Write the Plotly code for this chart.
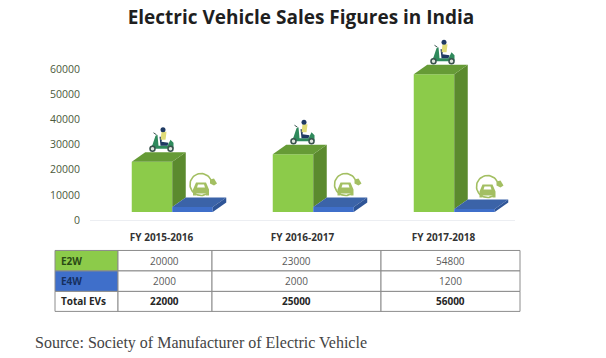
import numpy as np
import plotly.graph_objects as go

# ---- data ----
categories = ["FY 2015-2016", "FY 2016-2017", "FY 2017-2018"]
e2w_values = [20000, 23000, 54800]
e4w_values = [2000, 2000, 1200]
total_values = [22000, 25000, 56000]
row_labels = ["E2W", "E4W", "Total EVs"]
y_ticks = [0, 10000, 20000, 30000, 40000, 50000, 60000]
title_text = "Electric Vehicle Sales Figures in India"
source_text = "Source: Society of Manufacturer of Electric Vehicle"

# ---- layout constants (pixels) ----
W, H = 606, 358
L, R, Y0, Y60 = 90, 515, 220, 69
CAT0, CAT_STEP = 161.5, 141
PX_X = 1 / CAT_STEP
PX_Y = 60000 / (Y0 - Y60)
TOP_VAL = 72000
T = Y0 - (Y0 - Y60) * TOP_VAL / 60000
FLOOR = 8 * PX_Y
BAR_W = 40.5 * PX_X
DX, DY = 13.5 * PX_X, 9.5 * PX_Y
GREEN_F, GREEN_S, GREEN_T = "#8ccb4a", "#5b8a2e", "#669b36"
BLUE_F, BLUE_S, BLUE_T = "#3f6fca", "#2f5597", "#3b63a8"
ICON = "#a3bf62"


def paper_x(px):
    return (px - L) / (R - L)


def paper_y(py):
    return (Y0 - py) / (Y0 - T)


fig = go.Figure()
xs = np.arange(len(categories), dtype=float)
green_c = xs - 9.5 * PX_X
blue_c = green_c + BAR_W

fig.add_bar(x=green_c, y=e2w_values, base=FLOOR, width=BAR_W, marker=dict(color=GREEN_F, line_width=0), name="E2W", showlegend=False)
fig.add_bar(x=blue_c, y=e4w_values, base=FLOOR, width=BAR_W, marker=dict(color=BLUE_F, line_width=0), name="E4W", showlegend=False)


def poly(px, py, color):
    fig.add_scatter(x=px, y=py, mode="lines", fill="toself", fillcolor=color,
                    line=dict(width=0, color=color), hoverinfo="skip", showlegend=False)


for i in range(3):
    g0, g1 = green_c[i] - BAR_W / 2, green_c[i] + BAR_W / 2
    b1 = g1 + BAR_W
    gt, bt = FLOOR + e2w_values[i], FLOOR + e4w_values[i]
    # green side, hidden below the blue top face
    poly([g1, g1 + DX, g1 + DX, g1], [gt, gt + DY, bt + DY, bt], GREEN_S)
    poly([g0, g0 + DX, g1 + DX, g1], [gt, gt + DY, gt + DY, gt], GREEN_T)
    poly([g1, g1 + DX, b1 + DX, b1], [bt, bt + DY, bt + DY, bt], BLUE_T)
    poly([b1, b1 + DX, b1 + DX, b1], [bt, bt + DY, FLOOR + DY, FLOOR], BLUE_S)


def icon_pts(cx, cy, pts):
    return [cx + p[0] * PX_X for p in pts], [cy + p[1] * PX_Y for p in pts]


def scooter(cx, base):
    def s(pts, color):
        a, b = icon_pts(cx, base, pts)
        poly(a, b, color)
    s([(-12, 3), (-9, 7), (-6, 16), (-4, 17), (-3, 6), (6, 6), (9, 12), (12, 9), (12, 3), (-3, 3)], "#2f8a5c")
    s([(-1, 6), (6, 6), (7, 9), (0, 10), (1, 15), (-2, 15)], "#1f3a63")
    s([(-1, 12), (4, 12), (5, 20), (0, 20)], "#e0dc78")
    a, b = icon_pts(cx, base, [(1.5, 22)])
    fig.add_scatter(x=a, y=b, mode="markers", marker=dict(size=5, color="#1f3a63"), hoverinfo="skip", showlegend=False)
    a, b = icon_pts(cx, base, [(-9, 3), (9, 3)])
    fig.add_scatter(x=a, y=b, mode="markers", marker=dict(size=5, color="#dfe5df", line=dict(width=1.5, color="#39524d")),
                    hoverinfo="skip", showlegend=False)
    a, b = icon_pts(cx, base, [(-8, 19), (-5, 17)])
    fig.add_scatter(x=a, y=b, mode="lines", line=dict(width=1, color="#39524d"), hoverinfo="skip", showlegend=False)


def car_icon(cx, base):
    t = np.radians(np.linspace(25, 300, 40))
    a = cx + 11 * np.cos(t) * PX_X
    b = base + (12 + 11 * np.sin(t)) * PX_Y
    fig.add_scatter(x=a, y=b, mode="lines", line=dict(width=1.6, color=ICON), hoverinfo="skip", showlegend=False)
    def s(pts, color):
        a, b = icon_pts(cx, base, pts)
        poly(a, b, color)
    s([(-8, 1), (-8, 7), (-5, 14), (5, 14), (8, 7), (8, 1), (5, 1), (5, 3), (-5, 3), (-5, 1)], ICON)
    s([(-4, 9), (-3, 12), (3, 12), (4, 9)], "#ffffff")
    s([(9, 13), (13, 11), (16, 13), (13, 18), (9, 17)], ICON)


scooter_dx = [0, 0, -1]
icon_dx = [39.5, 43, 44]
for i in range(3):
    top = FLOOR + e2w_values[i] + DY
    scooter(xs[i] + scooter_dx[i] * PX_X, top + 0.5 * PX_Y)
    car_icon(xs[i] + icon_dx[i] * PX_X, FLOOR + e4w_values[i] + DY + 1 * PX_Y)

# ---- table (drawn in page pixels) ----
FONT = "Open Sans"
GREY, DARK, RULE = "#5a5a5a", "#262626", "#8c8c8c"
col_edges = [55, 118, 212, 381, 520]
row_edges = [250.5, 271, 291.5, 311.5]
rows = [e2w_values, e4w_values, total_values]
row_fill = [GREEN_F, BLUE_F, "white"]
label_color = ["#2a4a15", "#16305f", DARK]
shapes = []
annotations = []
for r in range(3):
    y0, y1 = row_edges[r], row_edges[r + 1]
    ym = (y0 + y1) / 2
    for c in range(4):
        x0, x1 = col_edges[c], col_edges[c + 1]
        shapes.append(dict(type="rect", xref="paper", yref="paper", layer="above",
                           x0=paper_x(x0), x1=paper_x(x1), y0=paper_y(y0), y1=paper_y(y1),
                           fillcolor=row_fill[r] if c == 0 else "white", line=dict(color=RULE, width=1)))
    annotations.append(dict(text=f"<b>{row_labels[r]}</b>", xref="paper", yref="paper", showarrow=False,
                            xanchor="left", yanchor="middle", x=paper_x(58.5), y=paper_y(ym),
                            font=dict(family=FONT, size=10, color=label_color[r])))
    for c in range(3):
        val = str(rows[r][c])
        annotations.append(dict(text=f"<b>{val}</b>" if r == 2 else val, xref="paper", yref="paper", showarrow=False,
                                xanchor="center", yanchor="middle",
                                x=paper_x((col_edges[c + 1] + col_edges[c + 2]) / 2 - 0.5), y=paper_y(ym),
                                font=dict(family=FONT, size=10, color=DARK if r == 2 else GREY)))

annotations.append(dict(text=source_text, xref="paper", yref="paper", showarrow=False, xanchor="left", yanchor="middle",
                        x=paper_x(32.5), y=paper_y(343),
                        font=dict(family="Liberation Serif", size=16, color="#444444")))

fig.update_layout(
    width=W, height=H, autosize=False, margin=dict(l=L, r=W - R, t=T, b=H - Y0, pad=0),
    paper_bgcolor="white", plot_bgcolor="white", barmode="overlay", showlegend=False,
    title=dict(text=f"<b>{title_text}</b>", x=301 / W, xanchor="center", xref="container",
               y=1 - 17.5 / H, yanchor="middle", yref="container",
               font=dict(family="Open Sans", size=19, color="#1f1f1f")),
    xaxis=dict(range=[(L - CAT0) * PX_X, (R - CAT0) * PX_X], tickmode="array", tickvals=list(xs),
               ticktext=[f"<b>{c}</b>" for c in categories], ticks="", showgrid=False, zeroline=False,
               showline=True, linecolor="#eceef2", linewidth=1, ticklabelstandoff=8,
               tickfont=dict(family="Open Sans", size=10, color="#333333")),
    yaxis=dict(range=[0, TOP_VAL], tickmode="array", tickvals=y_ticks, ticktext=[str(v) for v in y_ticks],
               ticks="", showgrid=False, zeroline=False, showline=False, ticklabelstandoff=9,
               tickfont=dict(family="Open Sans", size=10.5, color="#4c5a3c")),
    shapes=shapes, annotations=annotations,
)

fig.write_html("out.html", config=dict(displayModeBar=False), post_script="document.body.style.margin='0';")
